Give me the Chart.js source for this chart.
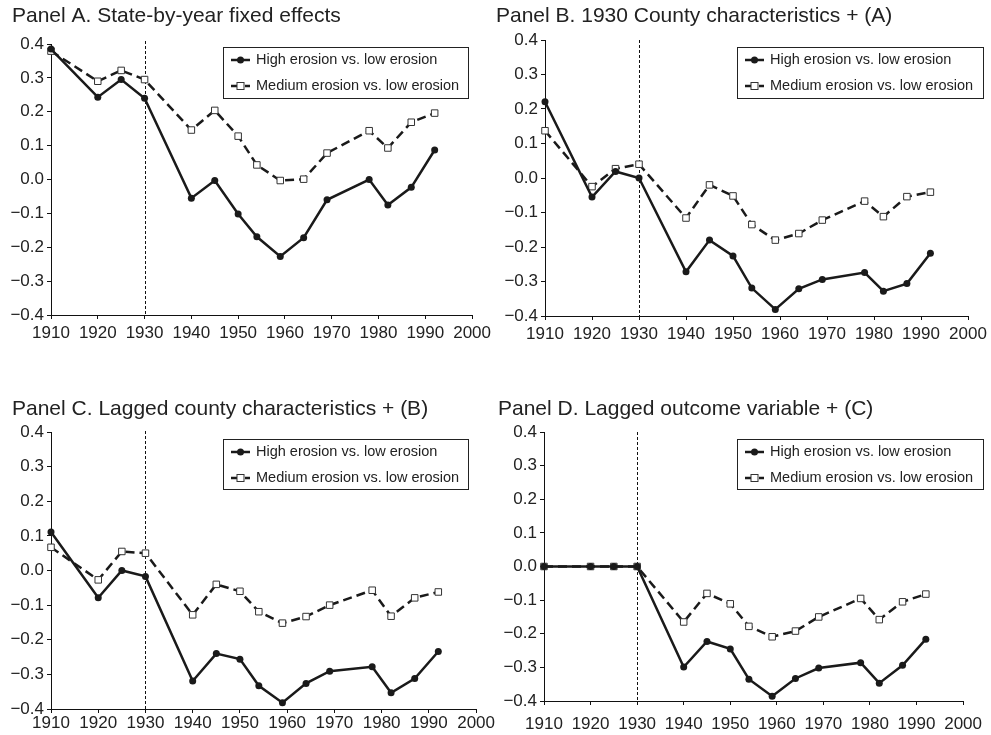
<!DOCTYPE html>
<html>
<head>
<meta charset="utf-8">
<title>Erosion event-study panels</title>
<script src="https://cdn.jsdelivr.net/npm/chart.js@4.4.1/dist/chart.umd.min.js"></script>
<style>
  body { margin: 0; background: #fff; }
  .panel { position: absolute; }
</style>
</head>
<body>
<div class="panel" style="left:0;top:0;width:495px;height:350px"><canvas id="panelA"></canvas></div>
<div class="panel" style="left:495px;top:0;width:496px;height:350px"><canvas id="panelB"></canvas></div>
<div class="panel" style="left:0;top:360px;width:495px;height:375px"><canvas id="panelC"></canvas></div>
<div class="panel" style="left:495px;top:360px;width:496px;height:375px"><canvas id="panelD"></canvas></div>

<script>
// Census years on the x axis
const years = [1910, 1920, 1925, 1930, 1940, 1945, 1950, 1954, 1959, 1964, 1969, 1978, 1982, 1987, 1992];
const xTickValues = [1910, 1920, 1930, 1940, 1950, 1960, 1970, 1980, 1990, 2000];
const yTickValues = [-0.4, -0.3, -0.2, -0.1, 0, 0.1, 0.2, 0.3, 0.4];
const treatmentYear = 1930;

const seriesLabels = ['High erosion vs. low erosion', 'Medium erosion vs. low erosion'];
const panelTitles = [
  'Panel A. State-by-year fixed effects',
  'Panel B. 1930 County characteristics + (A)',
  'Panel C. Lagged county characteristics + (B)',
  'Panel D. Lagged outcome variable + (C)'
];

// Panel A
const highA = [0.385, 0.243, 0.295, 0.240, -0.055, -0.003, -0.102, -0.169, -0.227, -0.172, -0.060, 0.000, -0.075, -0.023, 0.087];
const medA  = [0.379, 0.290, 0.322, 0.295, 0.146, 0.204, 0.128, 0.043, -0.003, 0.001, 0.078, 0.144, 0.093, 0.169, 0.196];
// Panel B
const highB = [0.221, -0.055, 0.019, 0.000, -0.272, -0.180, -0.226, -0.319, -0.381, -0.321, -0.294, -0.274, -0.328, -0.306, -0.218];
const medB  = [0.137, -0.025, 0.027, 0.040, -0.116, -0.020, -0.052, -0.135, -0.180, -0.161, -0.122, -0.067, -0.112, -0.054, -0.041];
// Panel C
const highC = [0.111, -0.079, 0.000, -0.017, -0.319, -0.240, -0.256, -0.333, -0.382, -0.326, -0.291, -0.278, -0.353, -0.312, -0.234];
const medC  = [0.067, -0.027, 0.055, 0.050, -0.128, -0.040, -0.060, -0.119, -0.152, -0.133, -0.100, -0.057, -0.132, -0.079, -0.062];
// Panel D
const highD = [0, 0, 0, 0, -0.299, -0.223, -0.245, -0.335, -0.386, -0.333, -0.302, -0.286, -0.347, -0.294, -0.216];
const medD  = [0, 0, 0, 0, -0.165, -0.080, -0.111, -0.178, -0.209, -0.192, -0.150, -0.095, -0.158, -0.105, -0.082];

const FONT = '"Liberation Sans", Arial, Helvetica, sans-serif';
const INK = '#1a1a1a';

// panel heading drawn at a fixed spot in the canvas
const panelTitle = {
  id: 'panelTitle',
  afterDraw(chart, args, opts) {
    const ctx = chart.ctx;
    ctx.save();
    ctx.font = '21px ' + FONT;
    ctx.fillStyle = '#222';
    ctx.textBaseline = 'alphabetic';
    ctx.textAlign = 'left';
    ctx.fillText(opts.text, opts.x, opts.y);
    ctx.restore();
  }
};

// dotted vertical line at the treatment year
const markerLine = {
  id: 'markerLine',
  beforeDatasetsDraw(chart, args, opts) {
    const ctx = chart.ctx;
    const x = Math.round(chart.scales.x.getPixelForValue(opts.value)) + 0.5;
    ctx.save();
    ctx.strokeStyle = '#111';
    ctx.lineWidth = 1;
    ctx.setLineDash([3, 2]);
    ctx.beginPath();
    ctx.moveTo(x, chart.chartArea.top - opts.overshoot);
    ctx.lineTo(x, chart.chartArea.bottom);
    ctx.stroke();
    ctx.restore();
  }
};

// framed legend with line + marker samples
const boxLegend = {
  id: 'boxLegend',
  afterDraw(chart, args, opts) {
    const ctx = chart.ctx;
    const { x, y, w, h } = opts;
    ctx.save();
    ctx.fillStyle = '#fff';
    ctx.fillRect(x, y, w, h);
    ctx.strokeStyle = '#222';
    ctx.lineWidth = 1;
    ctx.strokeRect(x + 0.5, y + 0.5, w, h);
    chart.data.datasets.forEach((ds, i) => {
      const ly = y + 13 + i * 26;
      ctx.strokeStyle = ds.borderColor;
      ctx.lineWidth = ds.borderWidth;
      ctx.setLineDash(ds.borderDash || []);
      ctx.beginPath();
      ctx.moveTo(x + 8, ly);
      ctx.lineTo(x + 27, ly);
      ctx.stroke();
      ctx.setLineDash([]);
      const cx = x + 17.5;
      ctx.fillStyle = ds.pointBackgroundColor;
      ctx.strokeStyle = ds.pointBorderColor;
      ctx.lineWidth = ds.pointBorderWidth;
      if (ds.pointStyle === 'rect') {
        ctx.fillRect(cx - 3.5, ly - 3.5, 7, 7);
        ctx.strokeRect(cx - 3.5, ly - 3.5, 7, 7);
      } else {
        ctx.beginPath();
        ctx.arc(cx, ly, ds.pointRadius, 0, Math.PI * 2);
        ctx.fill();
      }
      ctx.fillStyle = '#222';
      ctx.font = '14.5px ' + FONT;
      ctx.textBaseline = 'middle';
      ctx.fillText(ds.label, x + 33, ly);
    });
    ctx.restore();
  }
};

function toPoints(vals) {
  return years.map((yr, i) => ({ x: yr, y: vals[i] }));
}

function fmtY(v) {
  if (Math.abs(v) < 1e-9) return '0.0';
  const s = Math.abs(v).toFixed(1);
  return v < 0 ? '\u2212' + s : s;
}

function makePanel(id, title, high, med, cfg) {
  const ctx = document.getElementById(id).getContext('2d');
  return new Chart(ctx, {
    type: 'line',
    data: {
      datasets: [{
        label: seriesLabels[0],
        data: toPoints(high),
        borderColor: INK,
        borderWidth: 2.5,
        pointStyle: 'circle',
        pointRadius: 3.5,
        pointBackgroundColor: INK,
        pointBorderColor: INK,
        pointBorderWidth: 0,
        tension: 0
      }, {
        label: seriesLabels[1],
        data: toPoints(med),
        borderColor: INK,
        borderWidth: 2.5,
        borderDash: [9, 5],
        pointStyle: 'rect',
        pointRadius: 4.6,
        pointBackgroundColor: '#fff',
        pointBorderColor: '#333',
        pointBorderWidth: 1,
        tension: 0
      }]
    },
    options: {
      responsive: true,
      maintainAspectRatio: false,
      animation: false,
      clip: false,
      layout: { padding: cfg.padding },
      scales: {
        x: {
          type: 'linear',
          min: 1910,
          max: 2000,
          afterBuildTicks: s => { s.ticks = xTickValues.map(v => ({ value: v })); },
          afterFit: s => { s.height = cfg.xHeight; },
          border: { color: '#111', width: 1 },
          grid: { drawOnChartArea: false, tickLength: 4, color: '#111' },
          ticks: {
            color: '#222',
            font: { family: FONT, size: 17 },
            padding: cfg.xPad,
            maxRotation: 0,
            autoSkip: false,
            callback: v => String(v)
          }
        },
        y: {
          min: -0.4,
          max: 0.4,
          afterBuildTicks: s => { s.ticks = yTickValues.map(v => ({ value: v })); },
          afterFit: s => { s.width = cfg.yWidth; },
          border: { color: '#111', width: 1 },
          grid: { drawOnChartArea: false, tickLength: 4, color: '#111' },
          ticks: {
            color: '#222',
            font: { family: FONT, size: 17 },
            padding: 3,
            callback: v => fmtY(v)
          }
        }
      },
      plugins: {
        legend: { display: false },
        tooltip: { enabled: false },
        panelTitle: { text: title, x: cfg.titleX, y: cfg.titleY },
        markerLine: { value: treatmentYear, overshoot: cfg.overshoot },
        boxLegend: cfg.legend
      }
    },
    plugins: [panelTitle, markerLine, boxLegend]
  });
}

makePanel('panelA', panelTitles[0], highA, medA, {
  padding: { left: 0, right: 19, top: 44, bottom: 5 },
  yWidth: 51, xHeight: 30, xPad: 4, overshoot: 3,
  titleX: 12, titleY: 22,
  legend: { x: 223, y: 47, w: 245, h: 51 }
});
makePanel('panelB', panelTitles[1], highB, medB, {
  padding: { left: 0, right: 23, top: 40, bottom: 4 },
  yWidth: 50, xHeight: 30, xPad: 4, overshoot: 0,
  titleX: 1, titleY: 22,
  legend: { x: 242, y: 47, w: 246, h: 51 }
});
makePanel('panelC', panelTitles[2], highC, medC, {
  padding: { left: 0, right: 18, top: 72, bottom: 6 },
  yWidth: 51, xHeight: 20, xPad: 0, overshoot: 1,
  titleX: 12, titleY: 55,
  legend: { x: 223, y: 79, w: 245, h: 50 }
});
makePanel('panelD', panelTitles[3], highD, medD, {
  padding: { left: 0, right: 24, top: 72, bottom: 4 },
  yWidth: 49, xHeight: 30, xPad: 9, overshoot: 0,
  titleX: 3, titleY: 55,
  legend: { x: 242, y: 79, w: 246, h: 50 }
});
</script>
</body>
</html>
